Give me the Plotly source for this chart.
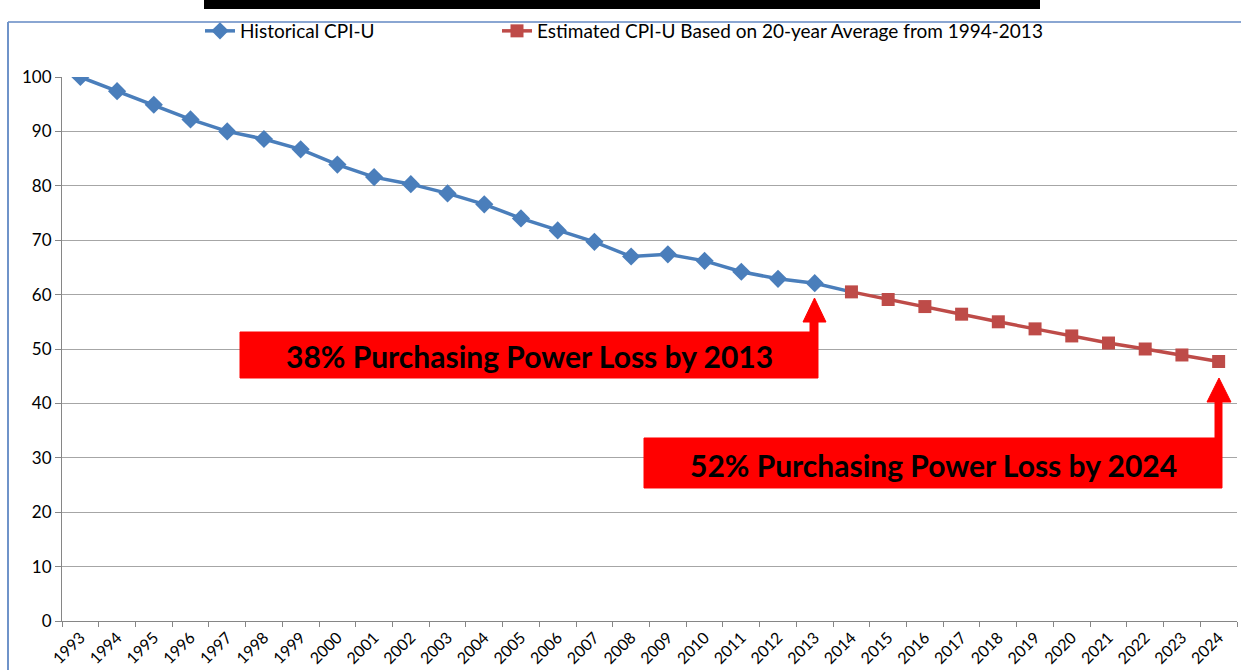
import plotly.graph_objects as go

years = [str(y) for y in range(1993, 2025)]

# Historical CPI-U purchasing power index (1993 = 100), 1993-2014
historical = [100.0, 97.4, 94.9, 92.2, 90.0, 88.6, 86.7, 83.9, 81.6, 80.3,
              78.6, 76.6, 74.0, 71.8, 69.7, 67.0, 67.4, 66.2, 64.2, 62.9,
              62.1, 60.5]
hist_years = years[:22]

# Estimated CPI-U based on 20-year average 1994-2013, 2014-2024
estimated = [60.5, 59.1, 57.8, 56.4, 55.0, 53.7, 52.4, 51.1, 50.0, 48.9, 47.7]
est_years = years[21:]

hist_name = "Historical CPI-U"
est_name = "Estimated CPI-U Based on 20-year Average from 1994-2013"
note_2013 = "38% Purchasing Power Loss by 2013"
note_2024 = "52% Purchasing Power Loss by 2024"

FONT = "Lato, Carlito, Calibri, 'Liberation Sans', sans-serif"
W, H = 1241, 670
ML, MR, MT, MB = 62, 4, 77, 49
PW, PH = W - ML - MR, H - MT - MB


def px(x):
    return (x - ML) / PW


def py(y):
    return (H - MB - y) / PH


fig = go.Figure()
fig.add_trace(go.Scatter(
    x=hist_years, y=historical, name=hist_name, mode="lines+markers",
    line=dict(color="#4A7EBB", width=3.5),
    marker=dict(symbol="diamond", size=[14] * (len(historical) - 1) + [0],
                color="#4A7EBB", opacity=1, line=dict(width=0)),
    legend="legend",
))
fig.add_trace(go.Scatter(
    x=est_years, y=estimated, name=est_name, mode="lines+markers",
    line=dict(color="#BE4B48", width=3.5),
    marker=dict(symbol="square", size=13, color="#BE4B48", opacity=1),
    legend="legend2",
))


def callout(x0, x1, y0, y1, sx0, sx1, sy, hx0, hx1, hy, tip):
    pts = [(x0, y0), (sx0, y0), (sx0, hy), (hx0, hy), (tip[0], tip[1]),
           (hx1, hy), (sx1, hy), (sx1, y0), (x1, y0), (x1, y1), (x0, y1)]
    d = "M " + " L ".join(f"{px(a):.5f},{py(b):.5f}" for a, b in pts) + " Z"
    return dict(type="path", xref="paper", yref="paper", path=d,
                fillcolor="#FF0000", line=dict(color="#FF0000", width=1),
                layer="above")


shapes = [
    dict(type="line", xref="paper", yref="paper", x0=px(8), x1=px(1245),
         y0=py(22), y1=py(22), line=dict(color="#8AA6D2", width=2)),
    dict(type="line", xref="paper", yref="paper", x0=px(8), x1=px(8),
         y0=py(22), y1=py(675), line=dict(color="#6F93C9", width=2)),
    dict(type="rect", xref="paper", yref="paper", x0=px(204), x1=px(1040),
         y0=py(0), y1=py(9), fillcolor="#000000", line=dict(width=0)),
    callout(240, 818, 332, 378, 810, 818, 322, 803, 826, 322, (814.5, 298)),
    callout(644, 1222, 438, 488, 1215, 1222, 402, 1207, 1231, 402, (1219, 378)),
]

annotations = [
    dict(xref="paper", yref="paper", x=px(529), y=py(356), text=f"<b>{note_2013}</b>",
         showarrow=False, font=dict(family=FONT, size=30, color="#000000"),
         xanchor="center", yanchor="middle"),
    dict(xref="paper", yref="paper", x=px(933), y=py(465), text=f"<b>{note_2024}</b>",
         showarrow=False, font=dict(family=FONT, size=30, color="#000000"),
         xanchor="center", yanchor="middle"),
]

legend_font = dict(family=FONT, size=19, color="#000000")
fig.update_layout(
    width=W, height=H,
    margin=dict(l=ML, r=MR, t=MT, b=MB),
    paper_bgcolor="#FFFFFF", plot_bgcolor="#FFFFFF",
    font=dict(family=FONT, color="#000000", size=17),
    showlegend=True,
    legend=dict(orientation="h", x=px(200), y=py(31), xanchor="left",
                yanchor="middle", font=legend_font, bgcolor="rgba(0,0,0,0)"),
    legend2=dict(orientation="h", x=px(497), y=py(31), xanchor="left",
                 yanchor="middle", font=legend_font, bgcolor="rgba(0,0,0,0)"),
    shapes=shapes,
    annotations=annotations,
    xaxis=dict(type="category", range=[-0.5, len(years) - 0.5],
               categoryorder="array", categoryarray=years,
               tickmode="array", tickvals=years, ticktext=years,
               tickson="boundaries", ticks="outside", ticklen=5,
               tickcolor="#868686", tickangle=-45,
               tickfont=dict(family=FONT, size=16, color="#000000"),
               showline=True, linecolor="#868686", linewidth=1,
               showgrid=False, zeroline=False, fixedrange=True),
    yaxis=dict(range=[0, 100], dtick=10, tick0=0, ticks="outside", ticklen=6,
               tickcolor="#868686", showline=True, linecolor="#868686",
               linewidth=1, showgrid=True, gridcolor="#A6A6A6", gridwidth=1,
               zeroline=False, tickfont=dict(family=FONT, size=17, color="#000000"),
               fixedrange=True),
)

fig.write_html("out.html", config={"displayModeBar": False},
               post_script="document.body.style.margin='0px';document.body.style.padding='0px';")
